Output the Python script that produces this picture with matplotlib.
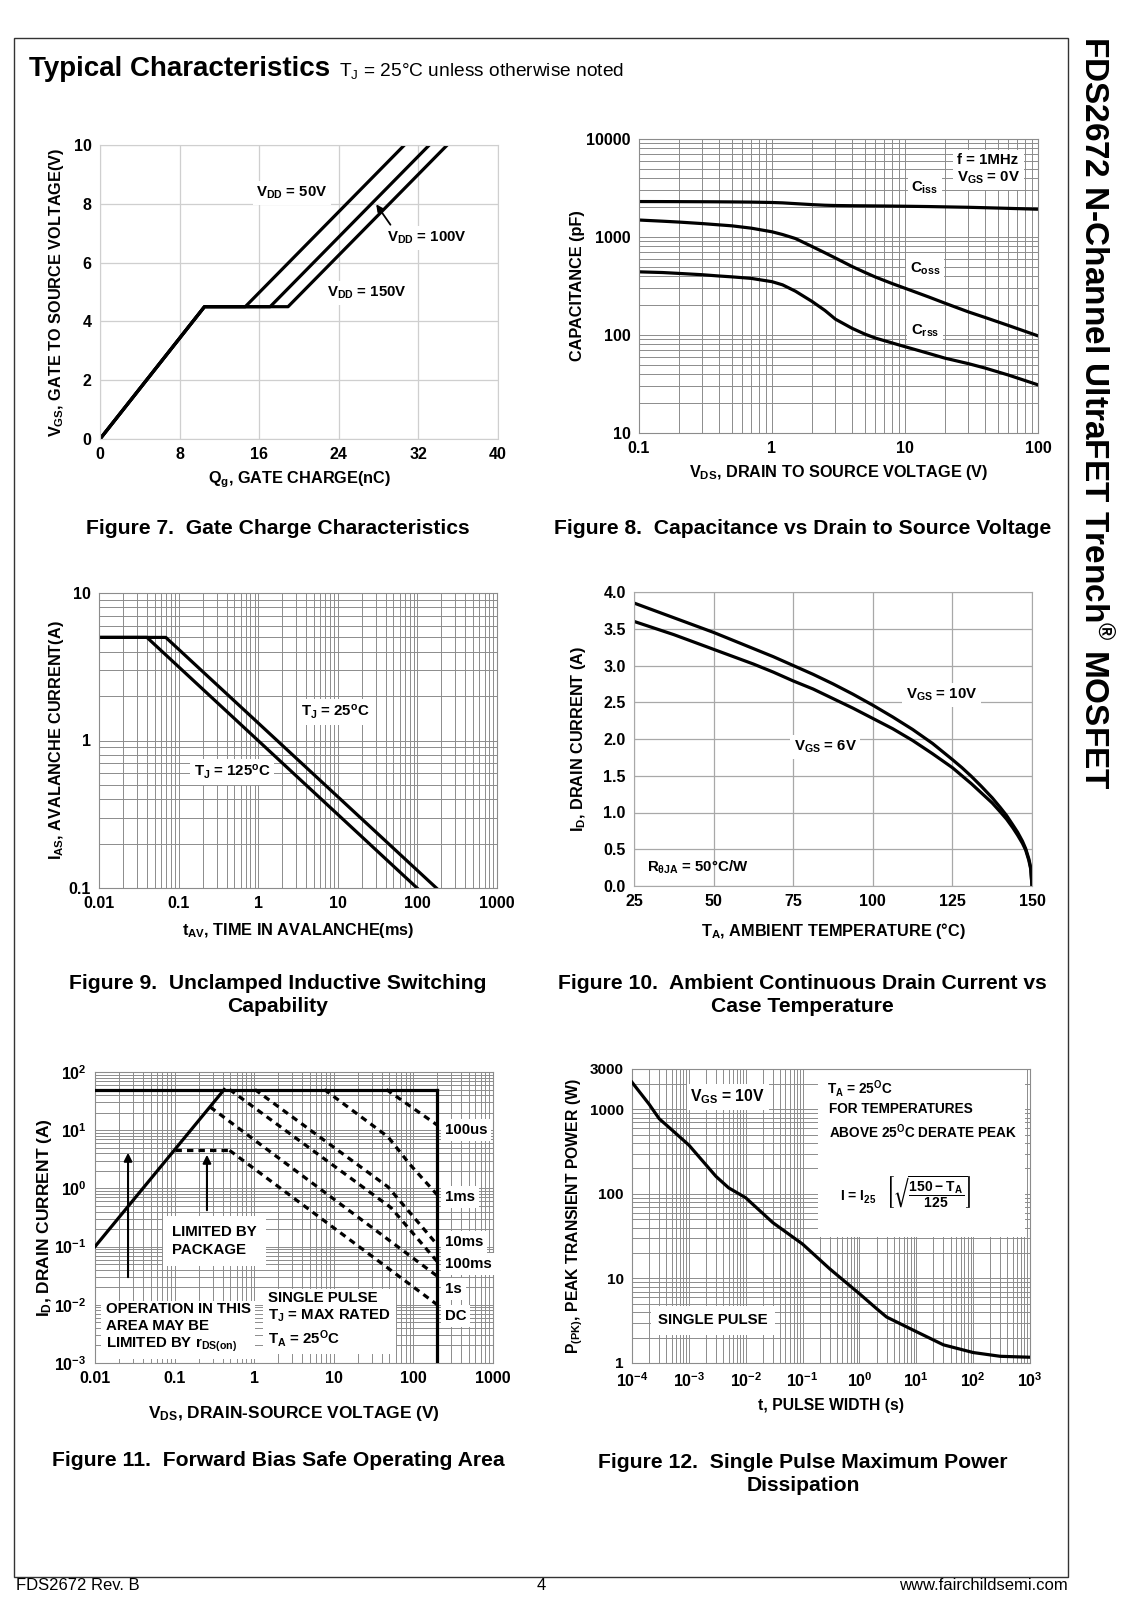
import numpy as np
import matplotlib
matplotlib.use('Agg')
import matplotlib.pyplot as plt
from matplotlib.patches import Rectangle
from matplotlib.ticker import LogLocator, NullFormatter

plt.rcParams['font.family'] = ['Liberation Sans', 'DejaVu Sans']
plt.rcParams['font.weight'] = 'bold'
plt.rcParams['mathtext.default'] = 'regular'

# ---------------- data ----------------
# Fig 7 gate charge
qg_50 = [0, 10.5, 14.6, 30.6]
qg_100 = [0, 10.5, 17.1, 33.1]
qg_150 = [0, 10.5, 18.9, 34.9]
vgs_gc = [0, 4.5, 4.5, 10]

# Fig 8 capacitance
vds_c = [0.1, 0.15, 0.2, 0.3, 0.4, 0.5, 0.7, 1, 1.2, 1.5, 2, 2.5, 3, 4, 5, 6, 8, 10, 15, 20, 30, 40, 60, 100]
ciss = [2300, 2298, 2295, 2290, 2285, 2280, 2270, 2250, 2230, 2190, 2140, 2110, 2095, 2085, 2080, 2075,
        2068, 2060, 2045, 2030, 2010, 1990, 1960, 1920]
coss = [1490, 1450, 1420, 1370, 1330, 1300, 1230, 1130, 1060, 965, 800, 690, 610, 500, 435, 390,
        335, 300, 245, 211, 172, 151, 125, 98]
crss = [441, 434, 425, 412, 400, 392, 378, 350, 325, 280, 220, 178, 145, 117, 102, 93,
        83, 76, 65, 58, 51, 46, 39, 31]

# Fig 9 UIS
tav_25 = [0.01, 0.069, 173]
ias_25 = [5, 5, 0.1]
tav_125 = [0.01, 0.040, 99]
ias_125 = [5, 5, 0.1]

# Fig 10 drain current vs temperature
ta = [25, 31.25, 37.5, 43.75, 50, 56.25, 62.5, 68.75, 75, 81.25, 87.5, 93.75, 100, 106.25, 112.5,
      118.75, 125, 128, 131, 134, 137.5, 140, 142, 144, 145.5, 147, 148, 149, 149.6, 150]
id_10v = [3.85, 3.75, 3.65, 3.55, 3.45, 3.34, 3.23, 3.12, 3.00, 2.88, 2.75, 2.61, 2.46, 2.30, 2.13,
          1.94, 1.72, 1.61, 1.49, 1.36, 1.20, 1.07, 0.96, 0.83, 0.73, 0.61, 0.51, 0.37, 0.25, 0.0]
id_6v = [3.60, 3.51, 3.42, 3.32, 3.22, 3.12, 3.02, 2.91, 2.79, 2.68, 2.55, 2.42, 2.28, 2.14, 1.98,
         1.80, 1.61, 1.50, 1.39, 1.27, 1.13, 1.01, 0.91, 0.79, 0.69, 0.58, 0.49, 0.35, 0.23, 0.0]

# Fig 11 SOA
rds_v = [0.01, 0.42]
rds_i = [0.1, 50]
top_v = [0.01, 200]
top_i = [50, 50]
vmax_v = [200, 200]
vmax_i = [50, 0.001]
pkg_v = [0.1, 0.49]
pkg_i = [4.5, 4.5]
us100_v = [45.8, 200]
us100_i = [50, 12.2]
ms1_v = [7.6, 48, 90, 200]
ms1_i = [50, 7.7, 2.6, 0.77]
ms10_v = [1.02, 48, 200]
ms10_i = [50, 1.06, 0.107]
ms100_v = [0.49, 52, 200]
ms100_i = [50, 0.47, 0.055]
s1_v = [0.28, 200]
s1_i = [25, 0.031]
dc_v = [0.49, 200]
dc_i = [4.5, 0.01]

# Fig 12 single pulse power
tp = [1e-4, 2e-4, 3e-4, 5e-4, 1e-3, 3e-3, 5e-3, 1e-2, 3e-2, 1e-1, 3e-1, 1, 2, 3, 10, 30, 100, 300, 1000]
ppk = [2090, 1150, 776, 573, 378, 161, 118, 90, 45.7, 25.5, 13, 6.6, 4.4, 3.5, 2.35, 1.64, 1.33, 1.2, 1.17]

# ---------------- figure ----------------
W, H = 1128, 1600
fig = plt.figure(figsize=(W / 100, H / 100), dpi=100)


def ax_px(l, r, t, b):
    return fig.add_axes([l / W, 1 - b / H, (r - l) / W, (b - t) / H])


def fx(x):
    return x / W


def fy(y):
    return 1 - y / H


LW = 2.3
TICK_FS = 11.5
LAB_FS = 11.7
ANN_FS = 10.8
CAP_FS = 15.2
GRID = '#8c8c8c'
WB = dict(boxstyle='square,pad=0.25', fc='white', ec='none')


def style(ax, grid_color, log=False):
    for s in ax.spines.values():
        s.set_color(grid_color)
        s.set_linewidth(0.8)
    ax.tick_params(which='both', length=0, labelsize=TICK_FS, pad=6)
    if log:
        for axis in (ax.xaxis, ax.yaxis):
            axis.set_minor_locator(LogLocator(base=10, subs=np.arange(2, 10), numticks=30))
            axis.set_minor_formatter(NullFormatter())
        ax.grid(True, which='both', color=grid_color, lw=0.7)
    else:
        ax.grid(True, which='major', color=grid_color, lw=0.9)
    for lbl in ax.get_xticklabels() + ax.get_yticklabels():
        lbl.set_fontweight('bold')


def labels(ax, xl, yl, xpos, ypos, fs=LAB_FS):
    ax.set_xlabel(xl, fontsize=fs, fontweight='bold')
    ax.set_ylabel(yl, fontsize=fs, fontweight='bold')
    ax.xaxis.set_label_coords(0.5, xpos)
    ax.yaxis.set_label_coords(ypos, 0.5)


# page frame
fig.add_artist(Rectangle((fx(14), fy(1577)), (1068 - 14) / W, (1577 - 38) / H,
                         transform=fig.transFigure, fill=False, ec='#333333', lw=1.0))

# header
fig.text(fx(29), fy(69), 'Typical Characteristics', fontsize=20, fontweight='bold',
         va='center', ha='left')
fig.text(fx(339), fy(71), 'T$_J$ = 25°C unless otherwise noted', fontsize=13.8, fontweight='normal',
         va='center', ha='left')

# side title
fig.text(fx(1094), fy(36), 'FDS2672 N-Channel UltraFET Trench$^{®}$ MOSFET', rotation=-90,
         fontsize=24, fontweight='bold', ha='center', va='top')

# footer
fig.text(fx(16), fy(1586), 'FDS2672 Rev. B', fontsize=12, fontweight='normal', va='center', ha='left')
fig.text(fx(541), fy(1586), '4', fontsize=12, fontweight='normal', va='center', ha='center')
fig.text(fx(1068), fy(1586), 'www.fairchildsemi.com', fontsize=12, fontweight='normal',
         va='center', ha='right')

# ---------- Figure 7 ----------
ax = ax_px(100, 498, 145, 439)
ax.plot(qg_50, vgs_gc, color='black', lw=LW)
ax.plot(qg_100, vgs_gc, color='black', lw=LW)
ax.plot(qg_150, vgs_gc, color='black', lw=LW)
ax.set_xlim(0, 40)
ax.set_ylim(0, 10)
ax.set_xticks([0, 8, 16, 24, 32, 40])
ax.set_yticks([0, 2, 4, 6, 8, 10])
style(ax, '#cfcfcf')
labels(ax, 'Q$_g$, GATE CHARGE(nC)', 'V$_{GS}$, GATE TO SOURCE VOLTAGE(V)', -0.105, -0.085)
ax.text(19.3, 8.37, 'V$_{DD}$ = 50V', fontsize=ANN_FS, ha='center', va='center', bbox=WB)
ax.text(32.9, 6.84, 'V$_{DD}$ = 100V', fontsize=ANN_FS, ha='center', va='center', bbox=WB)
ax.text(26.8, 4.97, 'V$_{DD}$ = 150V', fontsize=ANN_FS, ha='center', va='center', bbox=WB)
ax.annotate('', xy=(27.6, 8.06), xytext=(29.35, 7.21),
            arrowprops=dict(arrowstyle='-|>', color='black', lw=1.3, mutation_scale=10))
fig.text(fx(278), fy(528), 'Figure 7.  Gate Charge Characteristics', fontsize=CAP_FS,
         fontweight='bold', ha='center', va='center')

# ---------- Figure 8 ----------
ax = ax_px(639, 1038, 139, 433)
ax.plot(vds_c, ciss, color='black', lw=LW)
ax.plot(vds_c, coss, color='black', lw=LW)
ax.plot(vds_c, crss, color='black', lw=LW)
ax.set_xscale('log')
ax.set_yscale('log')
ax.set_xlim(0.1, 100)
ax.set_ylim(10, 10000)
ax.set_xticks([0.1, 1, 10, 100], ['0.1', '1', '10', '100'])
ax.set_yticks([10, 100, 1000, 10000], ['10', '100', '1000', '10000'])
style(ax, GRID, log=True)
labels(ax, 'V$_{DS}$, DRAIN TO SOURCE VOLTAGE (V)', 'CAPACITANCE (pF)', -0.102, -0.135)
ax.text(14.1, 3162, 'C$_{iss}$', fontsize=ANN_FS, ha='center', va='center', bbox=WB)
ax.text(14.1, 471, 'C$_{oss}$', fontsize=ANN_FS, ha='center', va='center', bbox=WB)
ax.text(14.1, 110, 'C$_{rss}$', fontsize=ANN_FS, ha='center', va='center', bbox=WB)
ax.text(24.6, 4885, 'f = 1MHz\nV$_{GS}$ = 0V', fontsize=ANN_FS, ha='left', va='center',
        bbox=WB, linespacing=1.25)
fig.text(fx(803), fy(528), 'Figure 8.  Capacitance vs Drain to Source Voltage', fontsize=CAP_FS,
         fontweight='bold', ha='center', va='center')

# ---------- Figure 9 ----------
ax = ax_px(99, 497, 593, 888)
ax.plot(tav_25, ias_25, color='black', lw=LW)
ax.plot(tav_125, ias_125, color='black', lw=LW)
ax.set_xscale('log')
ax.set_yscale('log')
ax.set_xlim(0.01, 1000)
ax.set_ylim(0.1, 10)
ax.set_xticks([0.01, 0.1, 1, 10, 100, 1000], ['0.01', '0.1', '1', '10', '100', '1000'])
ax.set_yticks([0.1, 1, 10], ['0.1', '1', '10'])
style(ax, GRID, log=True)
labels(ax, 't$_{AV}$, TIME IN AVALANCHE(ms)', 'I$_{AS}$, AVALANCHE CURRENT(A)', -0.112, -0.083)
ax.text(9.2, 1.56, 'T$_J$ = 25$^o$C', fontsize=ANN_FS, ha='center', va='center', bbox=WB)
ax.text(0.469, 0.611, 'T$_J$ = 125$^o$C', fontsize=ANN_FS, ha='center', va='center', bbox=WB)
fig.text(fx(278), fy(995), 'Figure 9.  Unclamped Inductive Switching\nCapability', fontsize=CAP_FS,
         fontweight='bold', ha='center', va='center', linespacing=1.25)

# ---------- Figure 10 ----------
ax = ax_px(634, 1032, 592, 886)
ax.plot(ta, id_10v, color='black', lw=LW)
ax.plot(ta, id_6v, color='black', lw=LW)
ax.set_xlim(25, 150)
ax.set_ylim(0, 4.0)
ax.set_xticks([25, 50, 75, 100, 125, 150])
ax.set_yticks(np.arange(0, 4.01, 0.5), ['%.1f' % v for v in np.arange(0, 4.01, 0.5)])
style(ax, '#a8a8a8')
labels(ax, 'T$_A$, AMBIENT TEMPERATURE (°C)', 'I$_D$, DRAIN CURRENT (A)', -0.119, -0.116)
ax.text(121.7, 2.6, 'V$_{GS}$ = 10V', fontsize=ANN_FS, ha='center', va='center', bbox=WB)
ax.text(85, 1.89, 'V$_{GS}$ = 6V', fontsize=ANN_FS, ha='center', va='center', bbox=WB)
ax.text(45.1, 0.26, 'R$_{θJA}$ = 50°C/W', fontsize=ANN_FS, ha='center', va='center')
fig.text(fx(802), fy(995), 'Figure 10.  Ambient Continuous Drain Current vs\nCase Temperature',
         fontsize=CAP_FS, fontweight='bold', ha='center', va='center', linespacing=1.25)

# ---------- Figure 11 ----------
ax = ax_px(95, 493, 1072, 1363)
ax.set_xscale('log')
ax.set_yscale('log')
ax.plot(rds_v, rds_i, color='black', lw=LW, zorder=3)
ax.plot(top_v, top_i, color='black', lw=LW, zorder=3)
ax.plot(vmax_v, vmax_i, color='black', lw=LW, zorder=3)
DASH = (0, (2.0, 1.6))
for xs, ys in [(pkg_v, pkg_i), (us100_v, us100_i), (ms1_v, ms1_i), (ms10_v, ms10_i),
               (ms100_v, ms100_i), (s1_v, s1_i), (dc_v, dc_i)]:
    ax.plot(xs, ys, color='black', lw=LW, ls=DASH, zorder=3)
ax.set_xlim(0.01, 1000)
ax.set_ylim(0.001, 100)
ax.set_xticks([0.01, 0.1, 1, 10, 100, 1000], ['0.01', '0.1', '1', '10', '100', '1000'])
ax.set_yticks([1e-3, 1e-2, 1e-1, 1, 10, 100],
              ['$10^{-3}$', '$10^{-2}$', '$10^{-1}$', '$10^{0}$', '$10^{1}$', '$10^{2}$'])
style(ax, GRID, log=True)
ax.tick_params(labelsize=11.5)
labels(ax, 'V$_{DS}$, DRAIN-SOURCE VOLTAGE (V)', 'I$_D$, DRAIN CURRENT (A)', -0.141, -0.102, fs=12.5)
FS11 = 10.8
for lab, yv in [('100us', 10.1), ('1ms', 0.71), ('10ms', 0.12), ('100ms', 0.050),
                ('1s', 0.0187), ('DC', 0.00643)]:
    ax.text(250, yv, lab, fontsize=FS11, ha='left', va='center', bbox=WB, zorder=4)
ax.text(0.0927, 0.125, 'LIMITED BY\nPACKAGE', fontsize=FS11, ha='left', va='center',
        bbox=dict(boxstyle='square,pad=0.6', fc='white', ec='none'), linespacing=1.3, zorder=4)
ax.text(0.01374, 0.00399, 'OPERATION IN THIS\nAREA MAY BE\nLIMITED BY r$_{DS(on)}$', fontsize=FS11,
        ha='left', va='center', bbox=dict(boxstyle='square,pad=0.3', fc='white', ec='none'),
        linespacing=1.25, zorder=4)
ax.text(1.49, 0.00548, 'SINGLE PULSE\nT$_J$ = MAX RATED\nT$_A$ = 25$^O$C', fontsize=FS11,
        ha='left', va='center', bbox=dict(boxstyle='square,pad=0.3', fc='white', ec='none'),
        linespacing=1.25, zorder=4)
ax.annotate('', xy=(0.255, 4.22), xytext=(0.255, 0.378),
            arrowprops=dict(arrowstyle='-|>', color='black', lw=1.5, mutation_scale=12), zorder=4)
ax.annotate('', xy=(0.026, 4.57), xytext=(0.026, 0.0267),
            arrowprops=dict(arrowstyle='-|>', color='black', lw=1.5, mutation_scale=12), zorder=4)
fig.text(fx(278), fy(1461), 'Figure 11.  Forward Bias Safe Operating Area', fontsize=CAP_FS,
         fontweight='bold', ha='center', va='center')

# ---------- Figure 12 ----------
ax = ax_px(632, 1030, 1069, 1363)
ax.set_xscale('log')
ax.set_yscale('log')
ax.plot(tp, ppk, color='black', lw=LW, zorder=3)
ax.set_xlim(1e-4, 1e3)
ax.set_ylim(1, 3000)
ax.set_xticks([1e-4, 1e-3, 1e-2, 1e-1, 1, 10, 100, 1000],
              ['$10^{-4}$', '$10^{-3}$', '$10^{-2}$', '$10^{-1}$', '$10^{0}$', '$10^{1}$',
               '$10^{2}$', '$10^{3}$'])
ax.set_yticks([1, 10, 100, 1000, 3000], ['1', '10', '100', '1000', '3000'])
style(ax, GRID, log=True)
ax.tick_params(axis='y', labelsize=11)
labels(ax, 't, PULSE WIDTH (s)', 'P$_{(PK)}$, PEAK TRANSIENT POWER (W)', -0.119, -0.118, fs=11.3)
ax.add_patch(Rectangle((0.467, 0.429), 0.52, 0.568, transform=ax.transAxes,
                       fc='white', ec='none', zorder=1.8))
ax.text(0.00487, 1400, 'V$_{GS}$ = 10V', fontsize=ANN_FS + 0.5, ha='center', va='center', bbox=WB)
ax.text(0.265, 1774, 'T$_A$ = 25$^O$C', fontsize=ANN_FS - 1, ha='left', va='center', zorder=4)
ax.text(0.292, 1009, 'FOR TEMPERATURES', fontsize=ANN_FS - 1, ha='left', va='center', zorder=4)
ax.text(0.292, 540, 'ABOVE 25$^O$C DERATE PEAK', fontsize=ANN_FS - 1, ha='left', va='center', zorder=4)
ax.text(0.455, 105, r'I = I$_{25}$   $\left[\sqrt{\dfrac{150 - T_A}{125}}\right]$', fontsize=ANN_FS - 0.8,
        ha='left', va='center', zorder=4)
ax.text(0.00266, 3.22, 'SINGLE PULSE', fontsize=ANN_FS, ha='center', va='center',
        bbox=dict(boxstyle='square,pad=0.5', fc='white', ec='none'))
fig.text(fx(803), fy(1474), 'Figure 12.  Single Pulse Maximum Power\nDissipation', fontsize=CAP_FS,
         fontweight='bold', ha='center', va='center', linespacing=1.25)

fig.savefig('out.png', dpi=100, facecolor='white')
